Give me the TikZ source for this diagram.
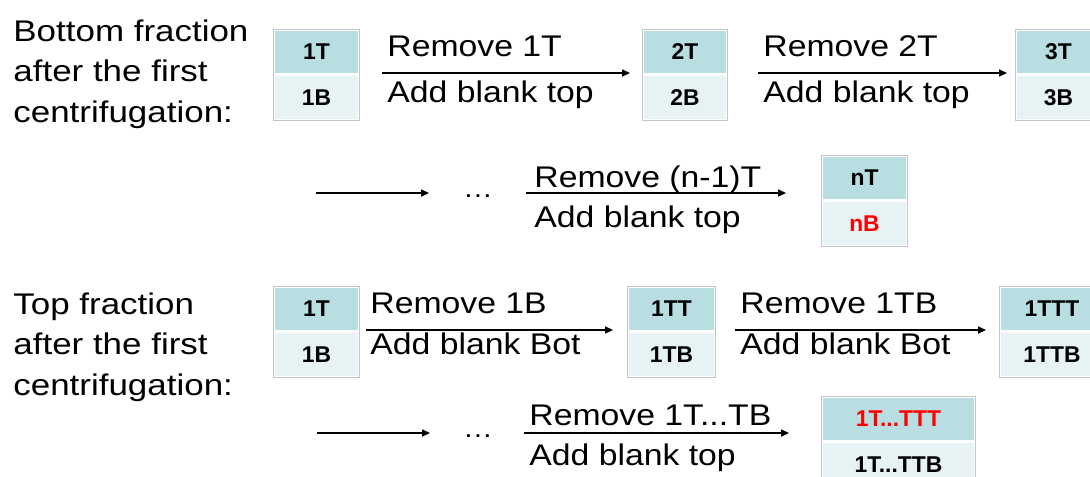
\documentclass[tikz,border=0pt]{standalone}
\usepackage{fontspec}
\setmainfont{Liberation Sans}
\usetikzlibrary{arrows.meta,positioning}
\definecolor{cellTop}{HTML}{B8DEE1}
\definecolor{cellBot}{HTML}{E6F2F3}
\definecolor{cellFrame}{HTML}{C4C4C4}

\begin{document}
\begin{tikzpicture}[x=0.02cm,y=-0.02cm]
\clip (0,0) rectangle (1090,477);

% left labels
\begin{scope}[every node/.style={anchor=base west,align=left,inner sep=0pt,xscale=1.17,
              font=\fontsize{17}{22.8}\selectfont}]
    \node (bottomlbl) at (13,122) {Bottom fraction\\after the first\\centrifugation:};
    \node (toplbl) at (13,395) {Top fraction\\after the first\\centrifugation:};
\end{scope}

% tubes
\begin{scope}[every node/.style={inner sep=0pt,minimum height=0.88cm,draw=white,line width=0.8pt,
              font=\fontsize{13}{15}\bfseries\selectfont}]
    \node[fill=cellTop,minimum width=1.7cm] (b1t) at (316.5,52) {1T};
    \node[fill=cellBot,minimum width=1.7cm,below=0pt of b1t] (b1b) {1B};
    \node[fill=cellTop,minimum width=1.68cm] (b2t) at (685,52) {2T};
    \node[fill=cellBot,minimum width=1.68cm,below=0pt of b2t] (b2b) {2B};
    \node[fill=cellTop,minimum width=1.7cm] (b3t) at (1058.5,52) {3T};
    \node[fill=cellBot,minimum width=1.7cm,below=0pt of b3t] (b3b) {3B};
    \node[fill=cellTop,minimum width=1.7cm] (bnt) at (864.5,178) {nT};
    \node[fill=cellBot,minimum width=1.7cm,below=0pt of bnt,text=red] (bnb) {nB};
    \node[fill=cellTop,minimum width=1.7cm] (c1t) at (316.5,309) {1T};
    \node[fill=cellBot,minimum width=1.7cm,below=0pt of c1t] (c1b) {1B};
    \node[fill=cellTop,minimum width=1.74cm] (c2t) at (671.5,309) {1TT};
    \node[fill=cellBot,minimum width=1.74cm,below=0pt of c2t] (c2b) {1TB};
    \node[fill=cellTop,minimum width=2.08cm] (c3t) at (1052,309) {1TTT};
    \node[fill=cellBot,minimum width=2.08cm,below=0pt of c3t] (c3b) {1TTB};
    \node[fill=cellTop,minimum width=3.06cm,text=red] (cnt) at (898.5,419) {1T...TTT};
    \node[fill=cellBot,minimum width=3.06cm,below=0pt of cnt] (cnb) {1T...TTB};
\end{scope}
\foreach \b in {b1,b2,b3,bn,c1,c2,c3,cn}
    \draw[cellFrame,line width=0.5pt] (\b t.north west) rectangle (\b b.south east);

% steps
\coordinate (a1s) at (382,73);  \coordinate (a1e) at (630,73);
\coordinate (a2s) at (758,73);  \coordinate (a2e) at (1007,73);
\coordinate (a3s) at (316,193); \coordinate (a3e) at (429,193);
\coordinate (a4s) at (526,193); \coordinate (a4e) at (786,193);
\coordinate (a5s) at (366,330); \coordinate (a5e) at (613,330);
\coordinate (a6s) at (735,330); \coordinate (a6e) at (986,330);
\coordinate (a7s) at (317,433); \coordinate (a7e) at (430,433);
\coordinate (a8s) at (524,433); \coordinate (a8e) at (789,433);

\begin{scope}[every node/.style={anchor=base west,inner sep=0pt,xscale=1.13,
              font=\fontsize{17}{22}\selectfont}]
    \node (r1) at (387,56) {Remove 1T};
    \node (s1) at (387,102) {Add blank top};
    \node (r2) at (763,56) {Remove 2T};
    \node (s2) at (763,102) {Add blank top};
    \node (r3) at (534,187) {Remove (n-1)T};
    \node (s3) at (534,227) {Add blank top};
    \node (r4) at (370,313) {Remove 1B};
    \node (s4) at (370,354) {Add blank Bot};
    \node (r5) at (740,313) {Remove 1TB};
    \node (s5) at (740,354) {Add blank Bot};
    \node (r6) at (529,425) {Remove 1T...TB};
    \node (s6) at (529,465) {Add blank top};
    \node[anchor=base] (dots1) at (478,197) {\fontsize{15}{18}\selectfont …};
    \node[anchor=base] (dots2) at (478,437) {\fontsize{15}{18}\selectfont …};
\end{scope}

\begin{scope}[>={Triangle[length=4.5pt,width=4pt]},
              every edge/.style={draw=black,line width=0.7pt}]
    \path [->] (a1s) edge (a1e);
    \path [->] (a2s) edge (a2e);
    \path [->] (a3s) edge (a3e);
    \path [->] (a4s) edge (a4e);
    \path [->] (a5s) edge (a5e);
    \path [->] (a6s) edge (a6e);
    \path [->] (a7s) edge (a7e);
    \path [->] (a8s) edge (a8e);
\end{scope}
\end{tikzpicture}
\end{document}
